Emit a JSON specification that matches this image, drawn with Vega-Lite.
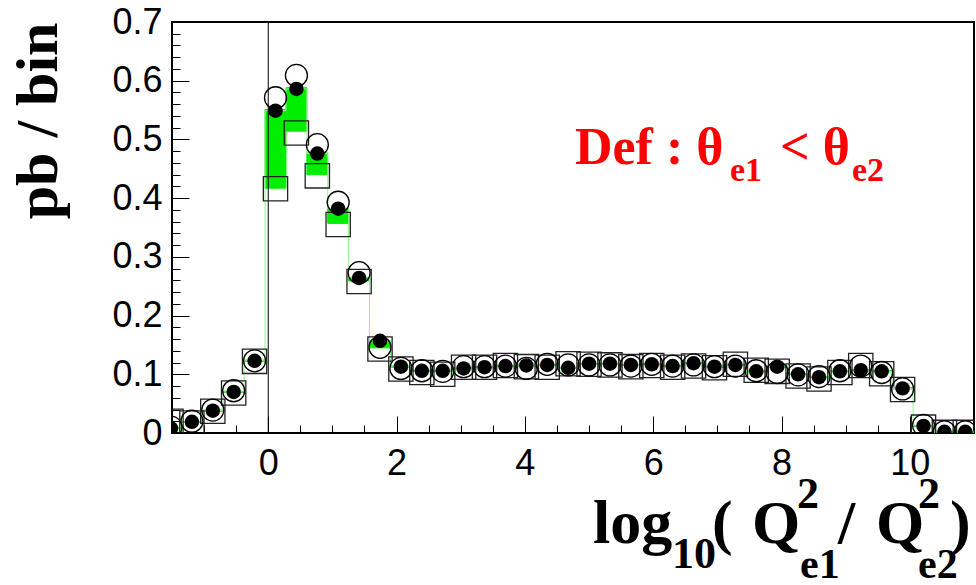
{
  "$schema": "https://vega.github.io/schema/vega-lite/v6.json",
  "autosize": {"type": "none"},
  "width": 802,
  "height": 411,
  "padding": {"left": 172, "top": 22, "right": 2, "bottom": 152},
  "background": "white",
  "config": {"view": {"stroke": "black", "strokeWidth": 2}},
  "datasets": {
    "hist": [
    {"c": -1.516, "lo": -1.679, "hi": -1.353, "filled": 0.008, "open": 0.010, "square": 0.020, "band_lo": 0.007, "band_hi": 0.009},
    {"c": -1.190, "lo": -1.353, "hi": -1.027, "filled": 0.019, "open": 0.020, "square": 0.017, "band_lo": 0.018, "band_hi": 0.020},
    {"c": -0.864, "lo": -1.027, "hi": -0.701, "filled": 0.038, "open": 0.039, "square": 0.037, "band_lo": 0.037, "band_hi": 0.039},
    {"c": -0.539, "lo": -0.701, "hi": -0.376, "filled": 0.070, "open": 0.072, "square": 0.068, "band_lo": 0.069, "band_hi": 0.071},
    {"c": -0.213, "lo": -0.376, "hi": -0.050, "filled": 0.123, "open": 0.123, "square": 0.122, "band_lo": 0.122, "band_hi": 0.124},
    {"c": 0.113, "lo": -0.050, "hi": 0.276, "filled": 0.549, "open": 0.571, "square": 0.416, "band_lo": 0.417, "band_hi": 0.551},
    {"c": 0.439, "lo": 0.276, "hi": 0.602, "filled": 0.586, "open": 0.609, "square": 0.511, "band_lo": 0.514, "band_hi": 0.588},
    {"c": 0.765, "lo": 0.602, "hi": 0.927, "filled": 0.476, "open": 0.491, "square": 0.438, "band_lo": 0.440, "band_hi": 0.477},
    {"c": 1.090, "lo": 0.927, "hi": 1.253, "filled": 0.382, "open": 0.393, "square": 0.355, "band_lo": 0.357, "band_hi": 0.382},
    {"c": 1.416, "lo": 1.253, "hi": 1.579, "filled": 0.264, "open": 0.273, "square": 0.258, "band_lo": 0.259, "band_hi": 0.265},
    {"c": 1.742, "lo": 1.579, "hi": 1.905, "filled": 0.157, "open": 0.146, "square": 0.143, "band_lo": 0.145, "band_hi": 0.157},
    {"c": 2.068, "lo": 1.905, "hi": 2.231, "filled": 0.113, "open": 0.110, "square": 0.109, "band_lo": 0.112, "band_hi": 0.114},
    {"c": 2.394, "lo": 2.231, "hi": 2.556, "filled": 0.106, "open": 0.106, "square": 0.103, "band_lo": 0.105, "band_hi": 0.107},
    {"c": 2.719, "lo": 2.556, "hi": 2.882, "filled": 0.106, "open": 0.105, "square": 0.100, "band_lo": 0.105, "band_hi": 0.107},
    {"c": 3.045, "lo": 2.882, "hi": 3.208, "filled": 0.110, "open": 0.113, "square": 0.112, "band_lo": 0.109, "band_hi": 0.111},
    {"c": 3.371, "lo": 3.208, "hi": 3.534, "filled": 0.112, "open": 0.113, "square": 0.112, "band_lo": 0.111, "band_hi": 0.113},
    {"c": 3.697, "lo": 3.534, "hi": 3.860, "filled": 0.114, "open": 0.114, "square": 0.115, "band_lo": 0.113, "band_hi": 0.115},
    {"c": 4.023, "lo": 3.860, "hi": 4.185, "filled": 0.115, "open": 0.110, "square": 0.113, "band_lo": 0.114, "band_hi": 0.116},
    {"c": 4.348, "lo": 4.185, "hi": 4.511, "filled": 0.116, "open": 0.117, "square": 0.112, "band_lo": 0.115, "band_hi": 0.117},
    {"c": 4.674, "lo": 4.511, "hi": 4.837, "filled": 0.111, "open": 0.116, "square": 0.118, "band_lo": 0.110, "band_hi": 0.112},
    {"c": 5.000, "lo": 4.837, "hi": 5.163, "filled": 0.118, "open": 0.116, "square": 0.117, "band_lo": 0.117, "band_hi": 0.119},
    {"c": 5.326, "lo": 5.163, "hi": 5.489, "filled": 0.118, "open": 0.116, "square": 0.116, "band_lo": 0.117, "band_hi": 0.119},
    {"c": 5.652, "lo": 5.489, "hi": 5.814, "filled": 0.116, "open": 0.114, "square": 0.113, "band_lo": 0.115, "band_hi": 0.117},
    {"c": 5.977, "lo": 5.814, "hi": 6.140, "filled": 0.117, "open": 0.117, "square": 0.115, "band_lo": 0.116, "band_hi": 0.118},
    {"c": 6.303, "lo": 6.140, "hi": 6.466, "filled": 0.114, "open": 0.114, "square": 0.112, "band_lo": 0.113, "band_hi": 0.115},
    {"c": 6.629, "lo": 6.466, "hi": 6.792, "filled": 0.119, "open": 0.116, "square": 0.114, "band_lo": 0.118, "band_hi": 0.120},
    {"c": 6.955, "lo": 6.792, "hi": 7.118, "filled": 0.113, "open": 0.113, "square": 0.111, "band_lo": 0.112, "band_hi": 0.114},
    {"c": 7.281, "lo": 7.118, "hi": 7.443, "filled": 0.116, "open": 0.114, "square": 0.117, "band_lo": 0.115, "band_hi": 0.117},
    {"c": 7.606, "lo": 7.443, "hi": 7.769, "filled": 0.105, "open": 0.106, "square": 0.107, "band_lo": 0.104, "band_hi": 0.106},
    {"c": 7.932, "lo": 7.769, "hi": 8.095, "filled": 0.113, "open": 0.103, "square": 0.105, "band_lo": 0.111, "band_hi": 0.114},
    {"c": 8.258, "lo": 8.095, "hi": 8.421, "filled": 0.100, "open": 0.099, "square": 0.097, "band_lo": 0.099, "band_hi": 0.101},
    {"c": 8.584, "lo": 8.421, "hi": 8.747, "filled": 0.095, "open": 0.096, "square": 0.092, "band_lo": 0.094, "band_hi": 0.096},
    {"c": 8.910, "lo": 8.747, "hi": 9.072, "filled": 0.105, "open": 0.106, "square": 0.103, "band_lo": 0.104, "band_hi": 0.106},
    {"c": 9.235, "lo": 9.072, "hi": 9.398, "filled": 0.107, "open": 0.114, "square": 0.115, "band_lo": 0.106, "band_hi": 0.108},
    {"c": 9.561, "lo": 9.398, "hi": 9.724, "filled": 0.105, "open": 0.103, "square": 0.101, "band_lo": 0.104, "band_hi": 0.106},
    {"c": 9.887, "lo": 9.724, "hi": 10.050, "filled": 0.076, "open": 0.075, "square": 0.074, "band_lo": 0.075, "band_hi": 0.077},
    {"c": 10.213, "lo": 10.050, "hi": 10.376, "filled": 0.012, "open": 0.013, "square": 0.010, "band_lo": 0.011, "band_hi": 0.013},
    {"c": 10.539, "lo": 10.376, "hi": 10.701, "filled": 0.002, "open": 0.002, "square": 0.001, "band_lo": 0.001, "band_hi": 0.003},
    {"c": 10.864, "lo": 10.701, "hi": 11.027, "filled": 0.002, "open": 0.002, "square": 0.001, "band_lo": 0.001, "band_hi": 0.003}
    ],
    "one": [{"n": 1}]
  },
  "data": {"name": "hist"},
  "resolve": {"axis": {"x": "independent", "y": "independent"}},
  "layer": [
    {
      "mark": {"type": "rect", "color": "#00ee00", "stroke": "#00ee00", "strokeWidth": 1, "clip": true},
      "encoding": {
        "x": {"field": "lo", "type": "quantitative",
              "scale": {"domain": [-1.5, 11], "nice": false, "zero": false},
              "axis": {"orient": "bottom", "values": [0, 2, 4, 6, 8, 10], "format": "d", "tickSize": -17, "tickColor": "black", "tickWidth": 1,
                       "labelPadding": 30, "labelFont": "Liberation Sans", "labelFontSize": 36, "labelColor": "black", "labelFlush": false, "labelOverlap": false,
                       "domain": false, "grid": false, "title": null}},
        "x2": {"field": "hi"},
        "y": {"field": "band_lo", "type": "quantitative",
              "scale": {"domain": [0, 0.7], "nice": false, "zero": false},
              "axis": {"orient": "left", "values": [0, 0.1, 0.2, 0.3, 0.4, 0.5, 0.6, 0.7], "format": ".1~f", "tickSize": -17, "tickColor": "black", "tickWidth": 1,
                       "labelPadding": 27, "labelFont": "Liberation Sans", "labelFontSize": 36, "labelColor": "black", "labelFlush": false, "labelOverlap": false,
                       "domain": false, "grid": false,
                       "title": "pb / bin", "titleFont": "Liberation Serif", "titleFontWeight": "bold", "titleFontSize": 60, "titleColor": "black",
                       "titleAnchor": "end", "titlePadding": 42}},
        "y2": {"field": "band_hi"}
      }
    },
    {
      "mark": {"type": "line", "interpolate": "step", "color": "#99ee99", "strokeWidth": 1, "clip": true},
      "encoding": {
        "x": {"field": "c", "type": "quantitative",
              "axis": {"orient": "bottom", "values": [-1, -0.5, 0.5, 1, 1.5, 2.5, 3, 3.5, 4.5, 5, 5.5, 6.5, 7, 7.5, 8.5, 9, 9.5, 10.5],
                       "labels": false, "tickSize": -8, "tickColor": "black", "tickWidth": 1, "domain": false, "grid": false, "title": null}},
        "y": {"field": "filled", "type": "quantitative",
              "axis": {"orient": "left", "values": [0.02, 0.04, 0.06, 0.08, 0.12, 0.14, 0.16, 0.18, 0.22, 0.24, 0.26, 0.28, 0.32, 0.34, 0.36, 0.38, 0.42, 0.44, 0.46, 0.48, 0.52, 0.54, 0.56, 0.58, 0.62, 0.64, 0.66, 0.68],
                       "labels": false, "tickSize": -8, "tickColor": "black", "tickWidth": 1, "domain": false, "grid": false, "title": null}}
      }
    },
    {
      "data": {"name": "one"},
      "mark": {"type": "rule", "color": "black", "strokeWidth": 1},
      "encoding": {
        "x": {"datum": 0, "type": "quantitative", "axis": null},
        "y": {"datum": 0, "type": "quantitative", "axis": null},
        "y2": {"datum": 0.7}
      }
    },
    {
      "mark": {"type": "point", "shape": "square", "filled": false, "color": "#222222", "strokeWidth": 1.3, "size": 590, "opacity": 1, "clip": true},
      "encoding": {
        "x": {"field": "c", "type": "quantitative", "axis": null},
        "y": {"field": "square", "type": "quantitative", "axis": null}
      }
    },
    {
      "mark": {"type": "point", "shape": "circle", "filled": false, "color": "black", "strokeWidth": 1.3, "size": 484, "opacity": 1, "clip": true},
      "encoding": {
        "x": {"field": "c", "type": "quantitative", "axis": null},
        "y": {"field": "open", "type": "quantitative", "axis": null}
      }
    },
    {
      "mark": {"type": "point", "shape": "circle", "filled": true, "color": "black", "size": 210, "opacity": 1, "clip": true},
      "encoding": {
        "x": {"field": "c", "type": "quantitative", "axis": null},
        "y": {"field": "filled", "type": "quantitative", "axis": null}
      }
    },
    {"data": {"name": "one"}, "mark": {"type": "text", "text": "log", "font": "Liberation Serif", "fontWeight": "bold", "fontSize": 62, "align": "left", "baseline": "alphabetic", "color": "black"},
     "encoding": {"x": {"datum": 5.062, "type": "quantitative", "axis": null}, "y": {"datum": -0.187, "type": "quantitative", "axis": null}}},
    {"data": {"name": "one"}, "mark": {"type": "text", "text": "10", "font": "Liberation Serif", "fontWeight": "bold", "fontSize": 44, "align": "left", "baseline": "alphabetic", "color": "black"},
     "encoding": {"x": {"datum": 6.293, "type": "quantitative", "axis": null}, "y": {"datum": -0.230, "type": "quantitative", "axis": null}}},
    {"data": {"name": "one"}, "mark": {"type": "text", "text": "(", "font": "Liberation Serif", "fontWeight": "bold", "fontSize": 62, "align": "left", "baseline": "alphabetic", "color": "black"},
     "encoding": {"x": {"datum": 6.916, "type": "quantitative", "axis": null}, "y": {"datum": -0.187, "type": "quantitative", "axis": null}}},
    {"data": {"name": "one"}, "mark": {"type": "text", "text": "Q", "font": "Liberation Serif", "fontWeight": "bold", "fontSize": 62, "align": "left", "baseline": "alphabetic", "color": "black"},
     "encoding": {"x": {"datum": 7.54, "type": "quantitative", "axis": null}, "y": {"datum": -0.187, "type": "quantitative", "axis": null}}},
    {"data": {"name": "one"}, "mark": {"type": "text", "text": "2", "font": "Liberation Serif", "fontWeight": "bold", "fontSize": 44, "align": "left", "baseline": "alphabetic", "color": "black"},
     "encoding": {"x": {"datum": 8.241, "type": "quantitative", "axis": null}, "y": {"datum": -0.128, "type": "quantitative", "axis": null}}},
    {"data": {"name": "one"}, "mark": {"type": "text", "text": "e1", "font": "Liberation Serif", "fontWeight": "bold", "fontSize": 42, "align": "left", "baseline": "alphabetic", "color": "black"},
     "encoding": {"x": {"datum": 8.288, "type": "quantitative", "axis": null}, "y": {"datum": -0.247, "type": "quantitative", "axis": null}}},
    {"data": {"name": "one"}, "mark": {"type": "text", "text": "/", "font": "Liberation Serif", "fontWeight": "bold", "fontSize": 62, "align": "left", "baseline": "alphabetic", "color": "black"},
     "encoding": {"x": {"datum": 8.88, "type": "quantitative", "axis": null}, "y": {"datum": -0.187, "type": "quantitative", "axis": null}}},
    {"data": {"name": "one"}, "mark": {"type": "text", "text": "Q", "font": "Liberation Serif", "fontWeight": "bold", "fontSize": 62, "align": "left", "baseline": "alphabetic", "color": "black"},
     "encoding": {"x": {"datum": 9.473, "type": "quantitative", "axis": null}, "y": {"datum": -0.187, "type": "quantitative", "axis": null}}},
    {"data": {"name": "one"}, "mark": {"type": "text", "text": "2", "font": "Liberation Serif", "fontWeight": "bold", "fontSize": 44, "align": "left", "baseline": "alphabetic", "color": "black"},
     "encoding": {"x": {"datum": 10.127, "type": "quantitative", "axis": null}, "y": {"datum": -0.128, "type": "quantitative", "axis": null}}},
    {"data": {"name": "one"}, "mark": {"type": "text", "text": "e2", "font": "Liberation Serif", "fontWeight": "bold", "fontSize": 42, "align": "left", "baseline": "alphabetic", "color": "black"},
     "encoding": {"x": {"datum": 10.127, "type": "quantitative", "axis": null}, "y": {"datum": -0.247, "type": "quantitative", "axis": null}}},
    {"data": {"name": "one"}, "mark": {"type": "text", "text": ")", "font": "Liberation Serif", "fontWeight": "bold", "fontSize": 62, "align": "left", "baseline": "alphabetic", "color": "black"},
     "encoding": {"x": {"datum": 10.626, "type": "quantitative", "axis": null}, "y": {"datum": -0.187, "type": "quantitative", "axis": null}}},
    {"data": {"name": "one"}, "mark": {"type": "text", "text": "Def : θ", "font": "Liberation Serif", "fontWeight": "bold", "fontSize": 52, "align": "left", "baseline": "alphabetic", "color": "#ff0000"},
     "encoding": {"x": {"datum": 4.781, "type": "quantitative", "axis": null}, "y": {"datum": 0.458, "type": "quantitative", "axis": null}}},
    {"data": {"name": "one"}, "mark": {"type": "text", "text": "e1", "font": "Liberation Serif", "fontWeight": "bold", "fontSize": 34, "align": "left", "baseline": "alphabetic", "color": "#ff0000"},
     "encoding": {"x": {"datum": 7.197, "type": "quantitative", "axis": null}, "y": {"datum": 0.429, "type": "quantitative", "axis": null}}},
    {"data": {"name": "one"}, "mark": {"type": "text", "text": "< θ", "font": "Liberation Serif", "fontWeight": "bold", "fontSize": 52, "align": "left", "baseline": "alphabetic", "color": "#ff0000"},
     "encoding": {"x": {"datum": 7.977, "type": "quantitative", "axis": null}, "y": {"datum": 0.458, "type": "quantitative", "axis": null}}},
    {"data": {"name": "one"}, "mark": {"type": "text", "text": "e2", "font": "Liberation Serif", "fontWeight": "bold", "fontSize": 34, "align": "left", "baseline": "alphabetic", "color": "#ff0000"},
     "encoding": {"x": {"datum": 9.099, "type": "quantitative", "axis": null}, "y": {"datum": 0.429, "type": "quantitative", "axis": null}}}
  ]
}
